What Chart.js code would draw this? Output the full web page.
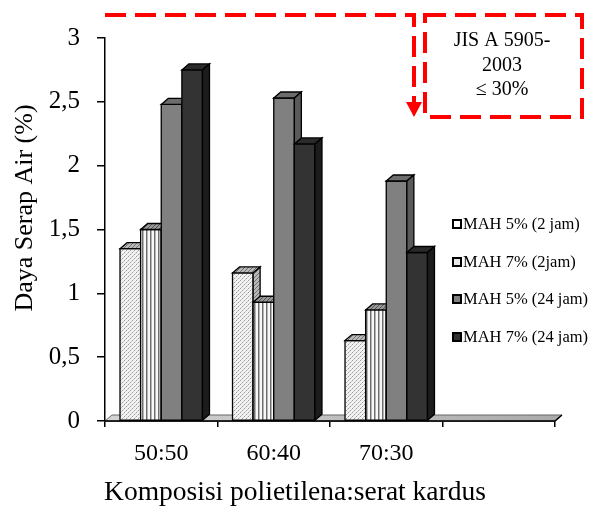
<!DOCTYPE html>
<html>
<head>
<meta charset="utf-8">
<script src="https://cdn.jsdelivr.net/npm/chart.js@4.4.1/dist/chart.umd.min.js"></script>
<style>
  html, body { margin: 0; padding: 0; background: #fff; }
  #wrap { width: 606px; height: 506px; }
</style>
</head>
<body>
<div id="wrap"><canvas id="serapChart" width="606" height="506"></canvas></div>
<script>
// composition categories (last slot left empty on the axis)
const categories = ['50:50', '60:40', '70:30', ''];
const seriesLabels = ['MAH 5% (2 jam)', 'MAH 7% (2jam)', 'MAH 5% (24 jam)', 'MAH 7% (24 jam)'];
const mah5_2jam = [1.35, 1.16, 0.63, null];
const mah7_2jam = [1.50, 0.93, 0.87, null];
const mah5_24jam = [2.48, 2.53, 1.88, null];
const mah7_24jam = [2.75, 2.17, 1.32, null];
const yTicks = [0, 0.5, 1, 1.5, 2, 2.5, 3];
const standardLines = ['JIS A 5905-', '2003', '\u2264 30%'];

const SERIF = '"Liberation Serif", "Times New Roman", serif';
const DX = 7, DY = 6; // 3d depth of the bars

function makePattern(w, h, paint) {
  const c = document.createElement('canvas');
  c.width = w; c.height = h;
  const g = c.getContext('2d');
  paint(g);
  return document.getElementById('serapChart').getContext('2d').createPattern(c, 'repeat');
}

const dotted = makePattern(4, 4, g => {
  g.fillStyle = '#f2f2f2'; g.fillRect(0, 0, 4, 4);
  g.fillStyle = '#9a9a9a'; g.fillRect(0, 0, 1, 1); g.fillRect(2, 2, 1, 1);
  g.fillStyle = '#c8c8c8'; g.fillRect(1, 3, 1, 1); g.fillRect(3, 1, 1, 1);
});
const striped = makePattern(4, 1, g => {
  g.fillStyle = '#f8f8f8'; g.fillRect(0, 0, 2, 1);
  g.fillStyle = '#6e6e6e'; g.fillRect(2, 0, 1, 1);
  g.fillStyle = '#b4b4b4'; g.fillRect(3, 0, 1, 1);
});
const hatchLight = makePattern(4, 4, g => {
  g.fillStyle = '#b8b8b8'; g.fillRect(0, 0, 4, 4);
  g.fillStyle = '#707070';
  for (let i = 0; i < 4; i++) g.fillRect(i, 3 - i, 1, 1);
});
const hatchDark = makePattern(4, 4, g => {
  g.fillStyle = '#9a9a9a'; g.fillRect(0, 0, 4, 4);
  g.fillStyle = '#505050';
  for (let i = 0; i < 4; i++) g.fillRect(i, 3 - i, 1, 1);
});

const fronts = [dotted, striped, '#808080', '#333333'];
const tops = [hatchLight, hatchDark, '#6c6c6c', '#2a2a2a'];
const sides = [hatchLight, hatchDark, '#5a5a5a', '#1c1c1c'];
const swatches = ['#ffffff', '#e8e8e8', '#808080', '#333333'];

function poly(ctx, pts, fill) {
  ctx.beginPath();
  ctx.moveTo(pts[0][0], pts[0][1]);
  for (let i = 1; i < pts.length; i++) ctx.lineTo(pts[i][0], pts[i][1]);
  ctx.closePath();
  ctx.fillStyle = fill;
  ctx.fill();
  ctx.stroke();
}

const bars3d = {
  id: 'bars3d',
  beforeDatasetDraw() {
    return false; // bars are painted in afterDatasetsDraw, left to right
  },
  afterDatasetsDraw(chart) {
    const ctx = chart.ctx;
    const area = chart.chartArea;
    ctx.save();
    // floor
    ctx.lineWidth = 1;
    ctx.strokeStyle = '#666';
    const fg = ctx.createLinearGradient(area.left, 0, area.right, 0);
    fg.addColorStop(0, '#d4d4d4');
    fg.addColorStop(1, '#ababab');
    poly(ctx, [[area.left, area.bottom], [area.left + DX, area.bottom - DY],
      [area.right + DX, area.bottom - DY], [area.right, area.bottom]], fg);

    ctx.strokeStyle = '#000';
    ctx.lineWidth = 1.3;
    ctx.lineJoin = 'miter';
    for (let j = 0; j < categories.length; j++) {
      for (let i = 0; i < chart.data.datasets.length; i++) {
        const ds = chart.data.datasets[i];
        if (ds.data[j] == null) continue;
        const el = chart.getDatasetMeta(i).data[j];
        const { x, y, base, width } = el.getProps(['x', 'y', 'base', 'width'], true);
        const l = x - width / 2, r = x + width / 2;
        poly(ctx, [[l, base], [l, y], [r, y], [r, base]], fronts[i]);
        poly(ctx, [[l, y], [l + DX, y - DY], [r + DX, y - DY], [r, y]], tops[i]);
        poly(ctx, [[r, y], [r + DX, y - DY], [r + DX, base - DY], [r, base]], sides[i]);
      }
    }
    // axis line back over the floor
    ctx.lineWidth = 1.5;
    ctx.beginPath();
    ctx.moveTo(area.left, area.bottom);
    ctx.lineTo(area.right, area.bottom);
    ctx.lineTo(area.right + DX, area.bottom - DY);
    ctx.stroke();
    ctx.restore();
  }
};

const extras = {
  id: 'extras',
  afterDraw(chart) {
    const ctx = chart.ctx;
    ctx.save();
    ctx.fillStyle = '#000';

    // axis titles
    ctx.font = '26px ' + SERIF;
    ctx.textAlign = 'center';
    ctx.textBaseline = 'middle';
    ctx.save();
    ctx.translate(25, 208);
    ctx.rotate(-Math.PI / 2);
    ctx.fillText('Daya Serap Air (%)', 0, 0);
    ctx.restore();
    ctx.font = '27.5px ' + SERIF;
    ctx.fillText('Komposisi polietilena:serat kardus', 295, 493);

    // legend
    ctx.font = '16.5px ' + SERIF;
    ctx.textAlign = 'left';
    const ly = [224, 262, 299, 337];
    seriesLabels.forEach((label, i) => {
      ctx.fillStyle = '#000';
      ctx.fillRect(452, ly[i] - 5, 10, 10);
      ctx.fillStyle = swatches[i];
      ctx.fillRect(454, ly[i] - 3, 6, 6);
      ctx.fillStyle = '#000';
      ctx.fillText(label, 463, ly[i] + 1);
    });

    // standard box and arrow
    ctx.strokeStyle = '#ff0000';
    ctx.fillStyle = '#ff0000';
    ctx.lineWidth = 4;
    ctx.setLineDash([21, 9]);
    ctx.beginPath();
    ctx.moveTo(105, 15);
    ctx.lineTo(414, 15);
    ctx.lineTo(414, 103);
    ctx.stroke();
    ctx.beginPath();
    ctx.rect(425, 15, 157, 102);
    ctx.stroke();
    ctx.setLineDash([]);
    ctx.beginPath();
    ctx.moveTo(406, 102);
    ctx.lineTo(422, 102);
    ctx.lineTo(414, 117);
    ctx.closePath();
    ctx.fill();

    ctx.fillStyle = '#000';
    ctx.font = '20px ' + SERIF;
    ctx.textAlign = 'center';
    standardLines.forEach((t, k) => ctx.fillText(t, 502, 41 + k * 24.5));
    ctx.restore();
  }
};

new Chart(document.getElementById('serapChart'), {
  type: 'bar',
  data: {
    labels: categories,
    datasets: [mah5_2jam, mah7_2jam, mah5_24jam, mah7_24jam].map((d, i) => ({
      label: seriesLabels[i],
      data: d,
      backgroundColor: fronts[i],
      borderColor: '#000',
      borderWidth: 1,
      borderSkipped: false
    }))
  },
  options: {
    responsive: false,
    animation: false,
    layout: { padding: { top: 38, right: 51, left: 0, bottom: 0 } },
    datasets: { bar: { barPercentage: 1, categoryPercentage: 0.733 } },
    plugins: { legend: { display: false }, tooltip: { enabled: false } },
    scales: {
      x: {
        afterFit: s => { s.height = 85; },
        border: { display: true, color: '#000', width: 1.5 },
        grid: { display: true, drawOnChartArea: false, color: '#000', tickLength: 6, lineWidth: 1.5, offset: true },
        ticks: { color: '#000', padding: 12, font: { family: SERIF, size: 24 }, maxRotation: 0 }
      },
      y: {
        min: 0,
        max: 3,
        afterFit: s => { s.width = 105; },
        afterBuildTicks: s => { s.ticks = yTicks.map(v => ({ value: v })); },
        border: { display: true, color: '#000', width: 1.5 },
        grid: { display: true, drawOnChartArea: false, color: '#000', tickLength: 8, lineWidth: 1.5 },
        ticks: {
          color: '#000',
          padding: 17,
          font: { family: SERIF, size: 25 },
          callback: v => String(v).replace('.', ',')
        }
      }
    }
  },
  plugins: [bars3d, extras]
});
</script>
</body>
</html>
